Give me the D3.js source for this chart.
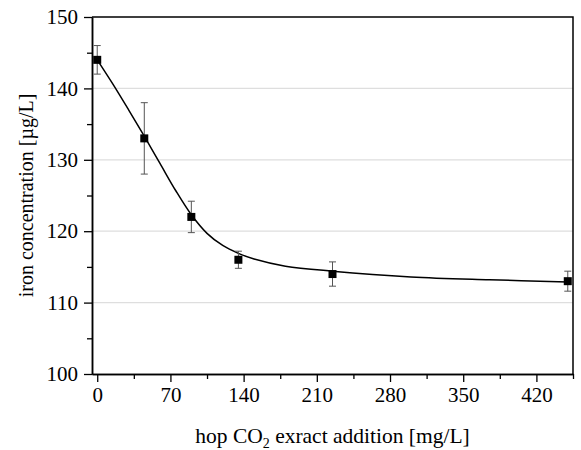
<!DOCTYPE html>
<html lang="en">
	<head>
		<meta charset="utf-8">
		<title>Iron concentration vs hop CO2 extract addition</title>
		<script type="text/javascript" src="https://cdn.jsdelivr.net/npm/d3@7"></script>
		<style type="text/css">
			body { margin: 0; background: #fff; }
			svg text { font-family: "Liberation Serif", "DejaVu Serif", serif !important; fill: #000; }
		</style>
	</head>
	<body>
		<script type="text/javascript">

			// measured points
			var doses = [0, 45, 90, 135, 225, 450];
			var iron = [144, 133, 122, 116, 114, 113];
			var ironErr = [2, 5, 2.2, 1.2, 1.7, 1.4];

			// fitted curve
			var fitX = [0, 15, 30, 45, 60, 75, 90, 105, 120, 135, 150, 180, 225, 300, 375, 450];
			var fitY = [144.0, 140.6, 137.0, 133.3, 129.5, 125.7, 122.3, 119.7, 118.0, 116.9, 116.1, 115.1, 114.4, 113.6, 113.2, 112.9];

			var xTicks = [0, 70, 140, 210, 280, 350, 420];
			var xMinor = [35, 105, 175, 245, 315, 385, 455];
			var yTicks = [100, 110, 120, 130, 140, 150];
			var yMinor = [105, 115, 125, 135, 145];

			var W = 581, H = 450;
			var margin = {top: 17, right: 8, bottom: 76, left: 92};
			var w = W - margin.left - margin.right,
				h = H - margin.top - margin.bottom;

			var xScale = d3.scaleLinear().domain([-5, 455]).range([0, w]);
			var yScale = d3.scaleLinear().domain([100, 150]).range([h, 0]);

			var svg = d3.select("body")
						.append("svg")
						.attr("width", W)
						.attr("height", H);

			var g = svg.append("g")
						.attr("transform", "translate(" + margin.left + "," + margin.top + ")");

			// gridlines
			g.selectAll("line.grid")
			 .data(yTicks.filter(function(d) { return d > 100 && d < 150; }))
			 .enter()
			 .append("line")
			 .attr("class", "grid")
			 .attr("x1", 0)
			 .attr("x2", w)
			 .attr("y1", function(d) { return yScale(d); })
			 .attr("y2", function(d) { return yScale(d); })
			 .attr("stroke", "#dedede")
			 .attr("stroke-width", 1.2);

			// frame (top and right)
			g.append("path")
			 .attr("d", "M0,0H" + w + "V" + h)
			 .attr("fill", "none")
			 .attr("stroke", "#000")
			 .attr("stroke-width", 1.5);

			// axes
			g.append("g")
			 .attr("transform", "translate(0," + h + ")")
			 .call(d3.axisBottom(xScale).tickValues(xTicks).tickSize(8).tickPadding(5).tickSizeOuter(0));
			g.append("g")
			 .attr("transform", "translate(0," + h + ")")
			 .call(d3.axisBottom(xScale).tickValues(xMinor).tickSize(5).tickFormat("").tickSizeOuter(0));

			g.append("g")
			 .call(d3.axisLeft(yScale).tickValues(yTicks).tickSize(8).tickPadding(6).tickSizeOuter(0));
			g.append("g")
			 .call(d3.axisLeft(yScale).tickValues(yMinor).tickSize(5).tickFormat("").tickSizeOuter(0));

			g.selectAll(".domain").attr("stroke", "#000").attr("stroke-width", 1.5);
			g.selectAll(".tick line").attr("stroke", "#000").attr("stroke-width", 1.3);
			g.selectAll(".tick text")
			 .attr("font-size", "21px")
			 .attr("fill", "#000");

			// fitted curve
			var line = d3.line()
						 .x(function(d) { return xScale(d[0]); })
						 .y(function(d) { return yScale(d[1]); })
						 .curve(d3.curveCatmullRom.alpha(0.5));

			g.append("path")
			 .datum(fitX.map(function(x, i) { return [x, fitY[i]]; }))
			 .attr("d", line)
			 .attr("fill", "none")
			 .attr("stroke", "#000")
			 .attr("stroke-width", 1.5);

			// error bars
			var pts = doses.map(function(x, i) { return {x: x, y: iron[i], e: ironErr[i]}; });
			var eb = g.selectAll("g.err")
					  .data(pts)
					  .enter()
					  .append("g")
					  .attr("class", "err")
					  .attr("stroke", "#555")
					  .attr("stroke-width", 1);

			eb.append("line")
			  .attr("x1", function(d) { return xScale(d.x); })
			  .attr("x2", function(d) { return xScale(d.x); })
			  .attr("y1", function(d) { return yScale(d.y - d.e); })
			  .attr("y2", function(d) { return yScale(d.y + d.e); });
			eb.append("line")
			  .attr("x1", function(d) { return xScale(d.x) - 3.5; })
			  .attr("x2", function(d) { return xScale(d.x) + 3.5; })
			  .attr("y1", function(d) { return yScale(d.y + d.e); })
			  .attr("y2", function(d) { return yScale(d.y + d.e); });
			eb.append("line")
			  .attr("x1", function(d) { return xScale(d.x) - 3.5; })
			  .attr("x2", function(d) { return xScale(d.x) + 3.5; })
			  .attr("y1", function(d) { return yScale(d.y - d.e); })
			  .attr("y2", function(d) { return yScale(d.y - d.e); });

			// square markers
			g.selectAll("rect.pt")
			 .data(pts)
			 .enter()
			 .append("rect")
			 .attr("class", "pt")
			 .attr("x", function(d) { return xScale(d.x) - 4; })
			 .attr("y", function(d) { return yScale(d.y) - 4; })
			 .attr("width", 8)
			 .attr("height", 8)
			 .attr("fill", "#000");

			// axis titles
			var xt = svg.append("text")
						.attr("x", margin.left + w / 2)
						.attr("y", 443)
						.attr("text-anchor", "middle")
						.attr("font-size", "21.5px");
			xt.append("tspan").text("hop CO");
			xt.append("tspan").attr("font-size", "14px").attr("dy", 5).text("2");
			xt.append("tspan").attr("dy", -5).text(" exract addition [mg/L]");

			svg.append("text")
			   .attr("transform", "translate(33," + (margin.top + h / 2) + ") rotate(-90)")
			   .attr("text-anchor", "middle")
			   .attr("font-size", "20px")
			   .text("iron concentration [µg/L]");

		</script>
	</body>
</html>
